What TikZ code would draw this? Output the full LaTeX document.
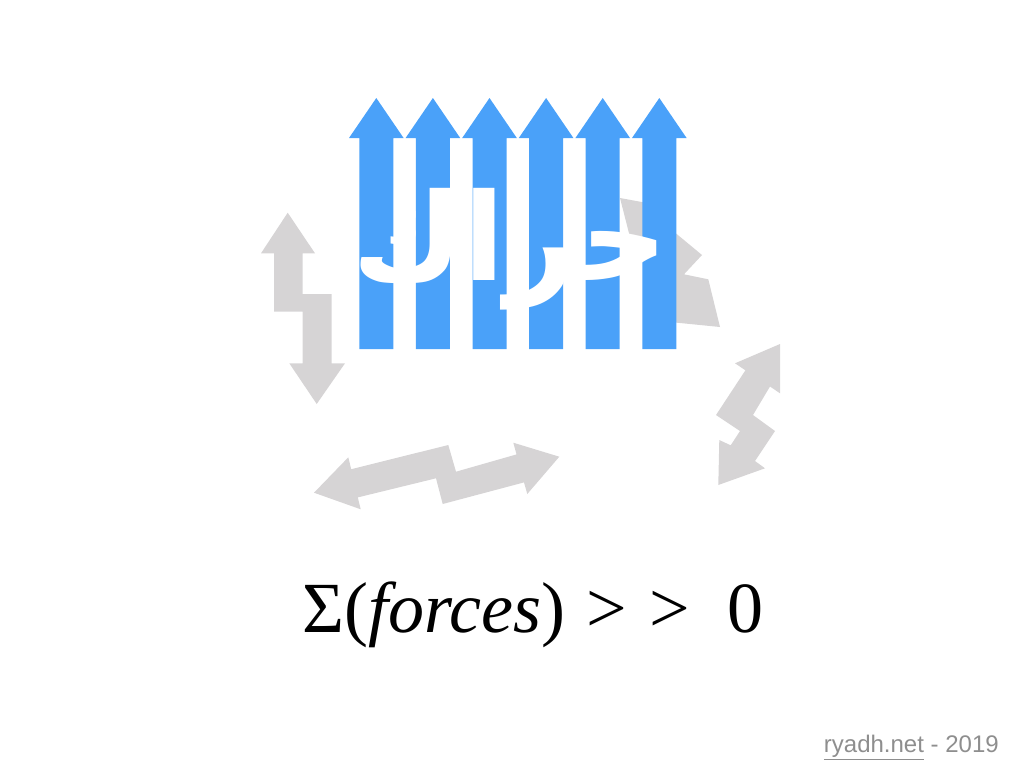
\documentclass[tikz,border=0pt]{standalone}
\usepackage{fontspec}
\usepackage{xcolor}
\TeXXeTstate=1
\newfontfamily\arabicfont[Script=Arabic]{DejaVu Sans}
\newfontfamily\sumfont{Liberation Serif}
\newfontfamily\creditfont{Liberation Sans}
\definecolor{forceblue}{HTML}{4AA1F9}
\definecolor{forcegray}{HTML}{D6D4D5}
\definecolor{creditgray}{HTML}{8E8E8E}

\begin{document}
\begin{tikzpicture}[x=0.75pt,y=-0.75pt,
  grayarrow/.style={fill=forcegray},
  bluearrow/.style={fill=forceblue}]
  \useasboundingbox (0,0) rectangle (1024,768);

  \fill[grayarrow] (287.7,212.7) -- (315,253.3) -- (302.7,253.3) -- (302.7,294) -- (331.7,294) -- (331.7,363.3) -- (345,363.3) -- (316.7,404) -- (289.3,363.3) -- (302.7,363.3) -- (302.7,311.7) -- (274,311.7) -- (274,253.3) -- (261,253.3) -- cycle;

  \fill[grayarrow] (620,198) -- (669,207) -- (661,221) -- (702,255) -- (684,274.3) -- (708.3,279.3) -- (720,327) -- (670,322) -- (660,310) -- (655,250) -- (646,233) -- (632,245) -- cycle;

  \fill[grayarrow] (780,344) -- (780,393.3) -- (770,386.5) -- (753,415) -- (775,431) -- (755,461) -- (765,468.3) -- (718.3,485) -- (719.3,440) -- (730.7,445.3) -- (740,431) -- (716,415) -- (745.4,370.3) -- (735,363.3) -- cycle;

  \fill[grayarrow] (314,492.7) -- (348.3,457.3) -- (351.2,469.2) -- (448.3,445) -- (456,471.7) -- (516.5,454.4) -- (513.3,442.7) -- (559.3,456.7) -- (527.3,494) -- (524,482.4) -- (442.7,504) -- (436,478.3) -- (357.8,497.4) -- (360.7,509.3) -- cycle;

  \foreach \i in {0,...,5} {
    \pgfmathsetmacro{\cx}{376.3+56.6*\i}
    \fill[bluearrow] (\cx,98) -- (\cx+27.3,138) -- (\cx+17,138) -- (\cx+17,349) -- (\cx-17,349) -- (\cx-17,138) -- (\cx-27.3,138) -- cycle;
  }

  \node[text=white, inner sep=0pt, anchor=base] (word) at (510,280) {\arabicfont\bfseries\fontsize{91}{94}\selectfont\beginR حراك\endR};

  \node[inner sep=0pt, anchor=base west] (sum) at (302,632) {\sumfont\fontsize{54}{58}\selectfont Σ(\textit{forces})\hspace{0.3em}>\hspace{0.3em}>\hspace{0.52em}0};

  \node[text=creditgray, inner sep=0pt, anchor=base east] (credit) at (999,752) {\creditfont\fontsize{18}{21}\selectfont\underline{ryadh.net} - 2019};
\end{tikzpicture}
\end{document}
